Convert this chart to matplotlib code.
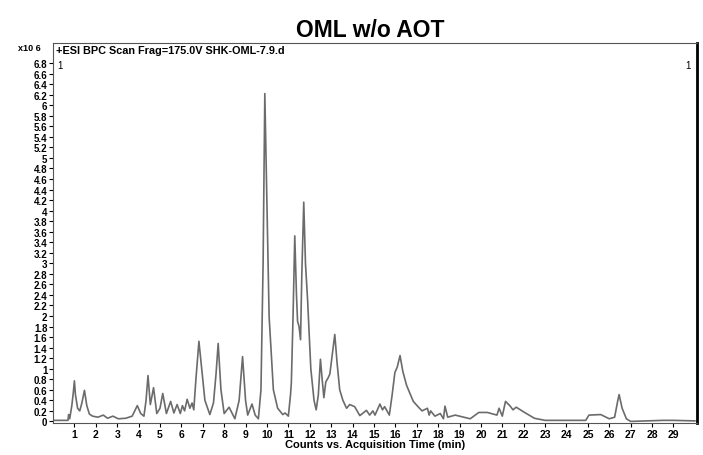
import matplotlib
matplotlib.use("Agg")
import matplotlib.pyplot as plt
import numpy as np

plt.rcParams['font.family'] = ['Liberation Sans', 'DejaVu Sans']

# retention time (min) vs BPC counts (x10^6)
time = [0.0, 0.7, 0.73, 0.78, 0.88, 0.95, 1.0, 1.05, 1.15, 1.25, 1.35, 1.47, 1.58, 1.7, 1.85,
        2.1, 2.35, 2.55, 2.8, 3.05, 3.4, 3.7, 3.94, 4.1, 4.25, 4.35, 4.44, 4.55, 4.7, 4.85,
        5.0, 5.13, 5.3, 5.5, 5.65, 5.8, 5.95, 6.05, 6.15, 6.27, 6.4, 6.5, 6.58, 6.68, 6.82,
        6.95, 7.1, 7.33, 7.5, 7.62, 7.72, 7.85, 8.0, 8.23, 8.5, 8.7, 8.86, 9.0, 9.1, 9.3,
        9.45, 9.6, 9.72, 9.82, 9.9, 9.98, 10.1, 10.3, 10.5, 10.74, 10.85, 11.0, 11.1, 11.14,
        11.22, 11.3, 11.38, 11.43, 11.5, 11.57, 11.63, 11.72, 11.8, 11.9, 12.05, 12.2, 12.3,
        12.4, 12.5, 12.58, 12.66, 12.75, 12.85, 12.94, 13.06, 13.17, 13.28, 13.4, 13.55,
        13.72, 13.87, 14.1, 14.34, 14.65, 14.8, 14.95, 15.05, 15.28, 15.4, 15.5, 15.72,
        15.85, 15.98, 16.09, 16.22, 16.35, 16.53, 16.84, 17.06, 17.25, 17.5, 17.58, 17.65,
        17.85, 18.1, 18.25, 18.32, 18.45, 18.8, 19.5, 19.9, 20.3, 20.75, 20.85, 21.0, 21.15,
        21.35, 21.5, 21.65, 22.0, 22.5, 23.0, 24.9, 25.05, 25.6, 26.0, 26.25, 26.4, 26.46,
        26.6, 26.8, 27.0, 28.5, 29.0, 30.0]
counts = [0.02, 0.02, 0.13, 0.05, 0.3, 0.55, 0.77, 0.5, 0.25, 0.2, 0.35, 0.59, 0.3, 0.14, 0.1,
          0.08, 0.12, 0.06, 0.1, 0.05, 0.06, 0.1, 0.3, 0.15, 0.1, 0.4, 0.87, 0.32, 0.64, 0.15,
          0.25, 0.53, 0.15, 0.38, 0.16, 0.32, 0.15, 0.3, 0.2, 0.42, 0.25, 0.35, 0.22, 0.8, 1.52,
          1.0, 0.4, 0.13, 0.35, 0.9, 1.48, 0.6, 0.15, 0.27, 0.05, 0.4, 1.23, 0.4, 0.12, 0.33,
          0.12, 0.05, 0.6, 3.0, 6.22, 4.5, 2.0, 0.6, 0.25, 0.13, 0.16, 0.1, 0.5, 0.73,
          2.0, 3.52, 2.4, 1.9, 1.8, 1.55, 2.8, 4.16, 3.0, 2.3, 1.0, 0.4, 0.22,
          0.5, 1.18, 0.8, 0.45, 0.75, 0.82, 0.9, 1.3, 1.65, 1.1, 0.6, 0.4,
          0.25, 0.32, 0.28, 0.11, 0.21, 0.12, 0.2, 0.12, 0.33, 0.22, 0.28, 0.12,
          0.5, 0.93, 1.03, 1.25, 0.95, 0.68, 0.38, 0.28, 0.2, 0.25, 0.12, 0.2,
          0.1, 0.15, 0.05, 0.29, 0.08, 0.12, 0.05, 0.17, 0.17, 0.12, 0.25, 0.1, 0.38,
          0.3, 0.22, 0.27, 0.18, 0.06, 0.02, 0.02, 0.12, 0.13, 0.05, 0.08, 0.4, 0.51,
          0.25, 0.05, 0.0, 0.02, 0.02, 0.01]

x_ticks = list(range(1, 30))
y_ticks = [round(0.2 * i, 1) for i in range(35)]

fig = plt.figure(figsize=(7.03, 4.56), dpi=100)
ax = fig.add_axes([53 / 703, 1 - 424 / 456, 644 / 703, 380 / 456])

ax.plot(time, counts, color='#6b6b6b', lw=1.2)

ax.set_xlim(0, 30.1)
ax.set_ylim(-0.03, 7.18)
ax.set_xticks(x_ticks)
ax.set_yticks(y_ticks)
ax.set_yticklabels(['%g' % v for v in y_ticks])
ax.tick_params(axis='both', labelsize=7, length=3, width=0.8, pad=1)
ax.tick_params(axis='x', labelsize=7.5)
for lab in ax.get_xticklabels() + ax.get_yticklabels():
    lab.set_fontweight('bold')

for s in ['left', 'bottom', 'top']:
    ax.spines[s].set_linewidth(0.8)
    ax.spines[s].set_color('#555555')
ax.spines['right'].set_linewidth(2)
ax.spines['right'].set_color('black')

ax.set_xlabel('Counts vs. Acquisition Time (min)', fontsize=8, fontweight='bold', labelpad=0)

ax.text(0.004, 0.995, '+ESI BPC Scan Frag=175.0V SHK-OML-7.9.d', transform=ax.transAxes,
        fontsize=7.8, fontweight='bold', va='top', ha='left')
ax.text(0.006, 0.955, '1', transform=ax.transAxes, fontsize=7, va='top', ha='left')
ax.text(0.99, 0.955, '1', transform=ax.transAxes, fontsize=7, va='top', ha='right')
ax.text(-0.055, 1.0, 'x10 6', transform=ax.transAxes, fontsize=6.5, fontweight='bold',
        va='top', ha='left')

fig.text(0.527, 0.958, 'OML w/o AOT', fontsize=16.5, fontweight='bold', ha='center', va='top')

fig.savefig('out.png', dpi=100)
